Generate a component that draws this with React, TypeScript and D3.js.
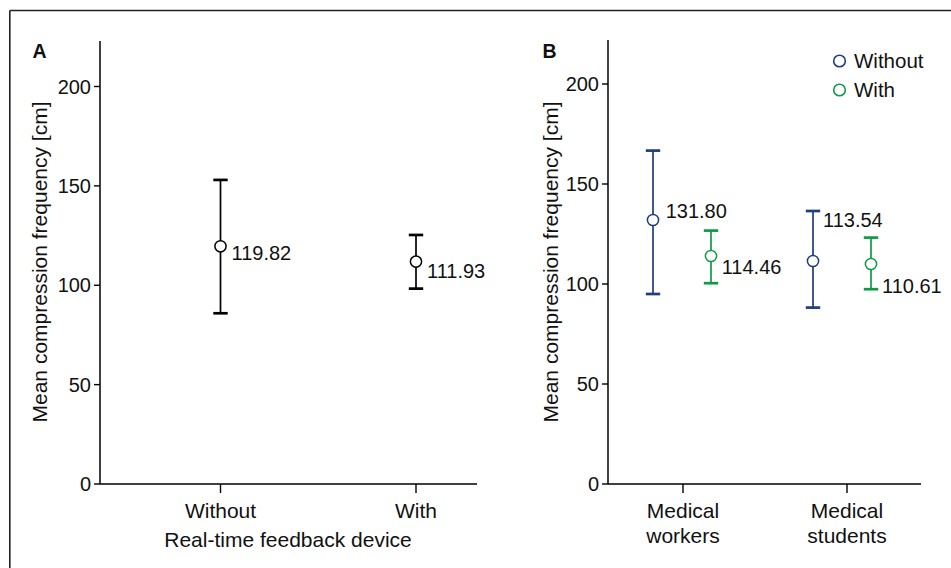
import React from 'react';
import * as d3 from 'd3';

// ---------- Data ----------
const yTicks = [0, 50, 100, 150, 200];

// Panel A
const aCategories = ['Without', 'With'];
const aMeans = [119.6, 111.9];
const aUpper = [153.0, 125.3];
const aLower = [85.9, 98.3];
const aLabels = ['119.82', '111.93'];

// Panel B
const bGroups = ['Medical workers', 'Medical students'];
const bGroupLines = [['Medical', 'workers'], ['Medical', 'students']];
const bSeries = ['Without', 'With'];
const bWithoutMeans = [132.0, 111.5];
const bWithoutUpper = [166.7, 136.5];
const bWithoutLower = [95.0, 88.2];
const bWithoutLabels = ['131.80', '113.54'];
const bWithMeans = [114.0, 110.0];
const bWithUpper = [126.7, 123.2];
const bWithLower = [100.4, 97.4];
const bWithLabels = ['114.46', '110.61'];

// ---------- Layout / style ----------
const W = 951;
const H = 568;
const FONT = '"Liberation Sans", Arial, Helvetica, sans-serif';
const NAVY = '#1f3e7c';
const GREEN = '#0f9a48';
const aLabelDy = [13.8, 16];
const bWithoutLabelDy = [-1.7, -34.3];
const bWithLabelDy = [18, 29];
const bWithoutLabelDx = [12.7, 10];
const bWithLabelDx = [10.7, 11];

type EBProps = { x: number; yMean: number; yUp: number; yLo: number; color: string; label: string; dx: number; dy: number };
const ErrorPoint = ({ x, yMean, yUp, yLo, color, label, dx, dy }: EBProps) => (
  <g>
    <line x1={x} x2={x} y1={yUp} y2={yLo} stroke={color} strokeWidth={1.7} />
    <line x1={x - 7.2} x2={x + 7.2} y1={yUp} y2={yUp} stroke={color} strokeWidth={2.7} />
    <line x1={x - 7.2} x2={x + 7.2} y1={yLo} y2={yLo} stroke={color} strokeWidth={2.7} />
    <circle cx={x} cy={yMean} r={5.6} fill="white" stroke={color} strokeWidth={1.5} />
    <text x={x + dx} y={yMean + dy} fontSize={20} fill="#111">{label}</text>
  </g>
);

export default function App() {
  // Panel A scales
  const yA = d3.scaleLinear().domain([0, 200]).range([484, 86.5]);
  const xA = d3.scalePoint<string>().domain(aCategories).range([220.5, 416]);
  const axA = { x0: 100, x1: 477, yTop: 41, yBase: 484 };

  // Panel B scales
  const yB = d3.scaleLinear().domain([0, 200]).range([484, 84]);
  const xBTicks = d3.scalePoint<string>().domain(bGroups).range([683, 847]);
  const xBGroup = d3.scalePoint<string>().domain(bGroups).range([682, 842]);
  const xBOffset = d3.scalePoint<string>().domain(bSeries).range([-29, 29]);
  const axB = { x0: 608, x1: 921, yTop: 40, yBase: 484 };

  const yAxis = (y: d3.ScaleLinear<number, number>, x0: number) =>
    yTicks.map((t) => (
      <g key={t}>
        <line x1={x0 - 6} x2={x0} y1={y(t)} y2={y(t)} stroke="#000" strokeWidth={1.4} />
        <text x={x0 - 9} y={y(t)} dy="0.35em" textAnchor="end" fontSize={20} fill="#111">{t}</text>
      </g>
    ));

  return (
    <svg width={W} height={H} style={{ position: 'absolute', left: 0, top: 0, fontFamily: FONT }}>
      <rect x={0} y={0} width={W} height={H} fill="white" />
      {/* frame */}
      <line x1={9.8} x2={W} y1={10.5} y2={10.5} stroke="#222" strokeWidth={1.6} />
      <line x1={9.8} x2={9.8} y1={10.5} y2={H} stroke="#222" strokeWidth={1.6} />

      {/* ---------- Panel A ---------- */}
      <text x={32.5} y={57.8} fontSize={19.5} fontWeight="bold" fill="#111">A</text>
      <line x1={axA.x0} x2={axA.x0} y1={axA.yTop} y2={axA.yBase} stroke="#000" strokeWidth={1.5} />
      <line x1={axA.x0} x2={axA.x1} y1={axA.yBase} y2={axA.yBase} stroke="#000" strokeWidth={1.5} />
      {yAxis(yA, axA.x0)}
      {aCategories.map((c) => (
        <g key={c}>
          <line x1={xA(c)!} x2={xA(c)!} y1={axA.yBase} y2={axA.yBase + 9} stroke="#000" strokeWidth={1.4} />
          <text x={xA(c)!} y={518} textAnchor="middle" fontSize={21} fill="#111">{c}</text>
        </g>
      ))}
      <text x={288} y={546.5} textAnchor="middle" fontSize={21} fill="#111">Real-time feedback device</text>
      <text transform="translate(46.5,262) rotate(-90)" textAnchor="middle" fontSize={21} fill="#111">
        Mean compression frequency [cm]
      </text>
      {aCategories.map((c, i) => (
        <ErrorPoint key={c} x={xA(c)!} yMean={yA(aMeans[i])} yUp={yA(aUpper[i])} yLo={yA(aLower[i])}
          color="#000" label={aLabels[i]} dx={11} dy={aLabelDy[i]} />
      ))}

      {/* ---------- Panel B ---------- */}
      <text x={542.5} y={57.8} fontSize={19.5} fontWeight="bold" fill="#111">B</text>
      <line x1={axB.x0} x2={axB.x0} y1={axB.yTop} y2={axB.yBase} stroke="#000" strokeWidth={1.5} />
      <line x1={axB.x0} x2={axB.x1} y1={axB.yBase} y2={axB.yBase} stroke="#000" strokeWidth={1.5} />
      {yAxis(yB, axB.x0)}
      {bGroups.map((g, i) => (
        <g key={g}>
          <line x1={xBTicks(g)!} x2={xBTicks(g)!} y1={axB.yBase} y2={axB.yBase + 9} stroke="#000" strokeWidth={1.4} />
          {bGroupLines[i].map((ln, j) => (
            <text key={j} x={xBTicks(g)!} y={518 + j * 24.5} textAnchor="middle" fontSize={21} fill="#111">{ln}</text>
          ))}
        </g>
      ))}
      <text transform="translate(558,262) rotate(-90)" textAnchor="middle" fontSize={21} fill="#111">
        Mean compression frequency [cm]
      </text>
      {bGroups.map((g, i) => (
        <g key={g}>
          <ErrorPoint x={xBGroup(g)! + xBOffset('Without')!} yMean={yB(bWithoutMeans[i])} yUp={yB(bWithoutUpper[i])}
            yLo={yB(bWithoutLower[i])} color={NAVY} label={bWithoutLabels[i]} dx={bWithoutLabelDx[i]} dy={bWithoutLabelDy[i]} />
          <ErrorPoint x={xBGroup(g)! + xBOffset('With')!} yMean={yB(bWithMeans[i])} yUp={yB(bWithUpper[i])}
            yLo={yB(bWithLower[i])} color={GREEN} label={bWithLabels[i]} dx={bWithLabelDx[i]} dy={bWithLabelDy[i]} />
        </g>
      ))}

      {/* legend */}
      {bSeries.map((s, i) => (
        <g key={s}>
          <circle cx={839.5} cy={61 + i * 29} r={5.8} fill="white" stroke={s === 'Without' ? NAVY : GREEN} strokeWidth={1.6} />
          <text x={854} y={67.5 + i * 29} fontSize={20.5} fill="#111">{s}</text>
        </g>
      ))}
    </svg>
  );
}
